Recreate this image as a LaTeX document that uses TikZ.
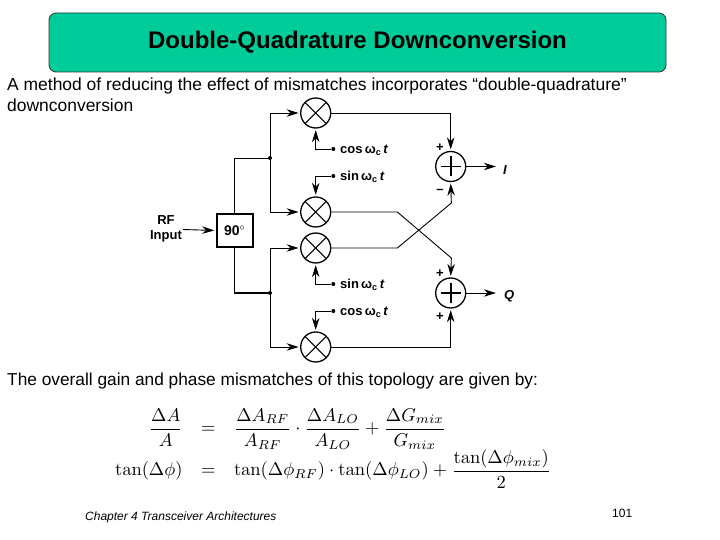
\documentclass[tikz,border=0pt]{standalone}
\usepackage{amsmath}
\usepackage[no-math]{fontspec}
\setmainfont{Liberation Sans}
\usetikzlibrary{arrows.meta,positioning}
\definecolor{banner}{HTML}{00CC99}
\tikzset{
  mixer/.style={circle, draw, line width=1.3pt, minimum size=30pt, inner sep=0pt,
                path picture={\draw[line width=1pt] (path picture bounding box.north west) -- (path picture bounding box.south east)
                              (path picture bounding box.north east) -- (path picture bounding box.south west);}},
  adder/.style={circle, draw, line width=1.3pt, minimum size=30pt, inner sep=0pt,
                path picture={\draw[line width=1.6pt] ([xshift=-10pt]path picture bounding box.center) -- ([xshift=10pt]path picture bounding box.center)
                              ([yshift=-10pt]path picture bounding box.center) -- ([yshift=10pt]path picture bounding box.center);}},
  dot/.style={circle, fill=black, minimum size=4pt, inner sep=0pt},
  lbl/.style={font=\fontsize{13}{14}\selectfont\bfseries, anchor=west, inner sep=0pt},
  sgn/.style={font=\fontsize{13}{14}\selectfont\bfseries, inner sep=0pt},
  para/.style={anchor=west, inner sep=0pt, align=left},
  arr/.style={-{Stealth[length=12pt, width=7.5pt]}, line width=0.9pt, shorten >=1.5pt},
  wire/.style={line width=0.9pt},
}
\newcommand{\lotext}[1]{#1\,ω\textsubscript{c}\,\textit{t}}

\begin{document}
\begin{tikzpicture}[x=1pt, y=-1pt, on grid]
\useasboundingbox (0,0) rectangle (720,540);
% title and text
\node[draw=black!80, fill=banner, rounded corners=7pt, line width=0.8pt, minimum width=617pt, minimum height=59pt,
      font=\fontsize{24}{26}\selectfont\bfseries] (title) at (357.5,42.5) {\raisebox{-2.5pt}{Double-Quadrature Downconversion}};
\node[para, font=\fontsize{17.45}{21}\selectfont] (intro) at (7,95) {A method of reducing the effect of mismatches incorporates “double-quadrature”\\downconversion};
\node[para, font=\fontsize{17.3}{21}\selectfont] (result) at (7,381) {The overall gain and phase mismatches of this topology are given by:};

% mixers
\node[mixer] (mixa) at (315.7,113) {};
\node[mixer, below=99pt of mixa] (mixb) {};
\node[mixer, below=36pt of mixb] (mixc) {};
\node[mixer, below=99pt of mixc] (mixd) {};

% adders
\node[adder, right=135pt of mixa, yshift=-53.5pt] (suma) {};
\node[adder, below=126.5pt of suma] (sumb) {};

% splitter
\node[draw, line width=2pt, minimum width=36pt, minimum height=32pt, inner sep=0pt,
      font=\fontsize{14}{15}\selectfont\bfseries] (phase) at (234.7,230.5) {90$^{\circ}$};
\node[font=\fontsize{13}{15}\selectfont\bfseries, align=center, inner sep=0pt] (rf) at (166,228.5) {RF\\Input};
\node[dot] (jtop) at (270,158) {};
\node[dot] (jbot) at (270,293) {};

% local oscillator ends
\node[dot] (cosa) at (333.3,149) {};
\node[dot] (sina) at (333.3,176) {};
\node[dot] (sinb) at (333.3,284) {};
\node[dot] (cosb) at (333.3,311) {};
\node[lbl] (cosalbl) at (340,150) {\lotext{cos}};
\node[lbl] (sinalbl) at (340,177) {\lotext{sin}};
\node[lbl] (sinblbl) at (340,285) {\lotext{sin}};
\node[lbl] (cosblbl) at (340,312) {\lotext{cos}};

% outputs and signs
\node[lbl, font=\fontsize{13}{14}\selectfont\bfseries\itshape] (iout) at (503,170) {I};
\node[lbl, font=\fontsize{13}{14}\selectfont\bfseries\itshape] (qout) at (504,296) {Q};
\node[sgn] (pa) at (440,148) {+};
\node[sgn] (ma) at (440,191) {--};
\node[sgn] (pb) at (440,274) {+};
\node[sgn] (pc) at (440,317) {+};

\draw[arr] (rf.east) ++(1,1) -- (phase.west);
\draw[wire] (phase.north) |- (jtop);
\draw[wire, line width=1.5pt] (phase.south) |- (jbot);
\draw[arr] (jtop) |- (mixa.west);
\draw[arr] (jtop) |- (mixb.west);
\draw[arr] (jbot) |- (mixc.west);
\draw[arr] (jbot) |- (mixd.west);
\draw[arr] (cosa) -| (mixa.south);
\draw[arr] (sina) -| (mixb.north);
\draw[arr] (sinb) -| (mixc.south);
\draw[arr] (cosb) -| (mixd.north);
\draw[arr] (mixa.east) -| (suma.north);
\draw[arr] (mixd.east) -| (sumb.south);
\draw[arr] (mixb.east) -- ++(66,0) -- ++(54,46) -- (sumb.north);
\draw[arr] (mixc.east) -- ++(66,0) -- ++(54,-45) -- (suma.south);
\draw[arr] (suma.east) -- ++(31,0);
\draw[arr] (sumb.east) -- ++(31,0);

% equations
\node[inner sep=0pt, scale=1.85, anchor=west] (eqs) at (105.5,448.5) {$\displaystyle
  \begin{array}{rcl}
  \dfrac{\Delta A}{A} & = & \dfrac{\Delta A_{RF}}{A_{RF}}\cdot\dfrac{\Delta A_{LO}}{A_{LO}}+\dfrac{\Delta G_{mix}}{G_{mix}}\\[5pt]
  \tan(\Delta\phi) & = & \tan(\Delta\phi_{RF})\cdot\tan(\Delta\phi_{LO})+\dfrac{\tan(\Delta\phi_{mix})}{2}
  \end{array}$};

% footer
\node[font=\fontsize{12}{14}\selectfont\itshape, anchor=west, inner sep=0pt] (chapter) at (85,517) {Chapter 4 Transceiver Architectures};
\node[font=\fontsize{12}{14}\selectfont, anchor=west, inner sep=0pt] (pageno) at (612,513) {101};
\end{tikzpicture}
\end{document}
